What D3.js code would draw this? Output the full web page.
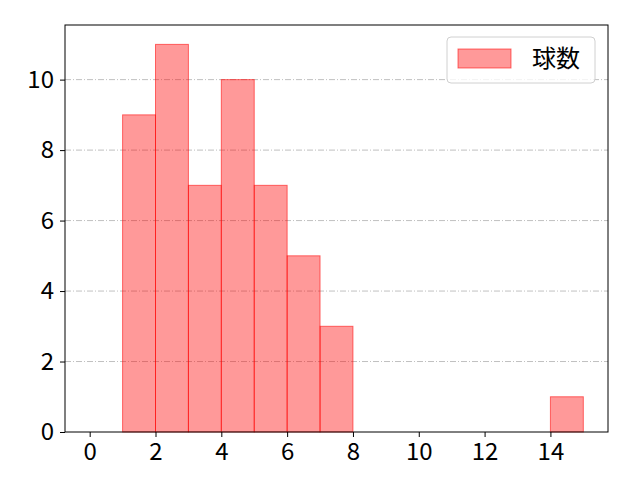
<!DOCTYPE html>
<html>
<head>
<meta charset="utf-8">
<script src="https://cdn.jsdelivr.net/npm/d3@7"></script>
<style>
  body { margin: 0; background: #fff; }
  text { font-family: "Noto Sans CJK JP", "DejaVu Sans", sans-serif; }
</style>
</head>
<body>
<div id="container"></div>
<script>
// histogram bins and counts
const binStarts = [0, 1, 2, 3, 4, 5, 6, 7, 8, 9, 10, 11, 12, 13, 14];
const counts = [0, 9, 11, 7, 10, 7, 5, 3, 0, 0, 0, 0, 0, 0, 1];
const xTicks = [0, 2, 4, 6, 8, 10, 12, 14];
const yTicks = [0, 2, 4, 6, 8, 10];
const seriesName = '球数';

// chart size
const w = 640;
const h = 480;
const margin = { top: 25, right: 32, bottom: 48, left: 65 };

const xScale = d3.scaleLinear()
    .domain([-0.75, 15.75])
    .range([margin.left, w - margin.right]);

const yScale = d3.scaleLinear()
    .domain([0, 11.55])
    .range([h - margin.bottom, margin.top]);

const svg = d3.select('#container')
    .append('svg')
    .attr('width', w)
    .attr('height', h);

// grid lines
svg.append('g')
    .selectAll('line')
    .data(yTicks.filter(d => d > 0))
    .join('line')
    .attr('x1', margin.left)
    .attr('x2', w - margin.right)
    .attr('y1', d => yScale(d))
    .attr('y2', d => yScale(d))
    .attr('stroke', '#b0b0b0')
    .attr('stroke-width', 0.8)
    .attr('stroke-dasharray', '6,2,1,2');

// bars
svg.append('g')
    .selectAll('rect')
    .data(binStarts.map((b, i) => [b, counts[i]]).filter(d => d[1] > 0))
    .join('rect')
    .attr('x', d => xScale(d[0]))
    .attr('y', d => yScale(d[1]))
    .attr('width', d => xScale(d[0] + 1) - xScale(d[0]))
    .attr('height', d => yScale(0) - yScale(d[1]))
    .attr('fill', 'rgba(255,0,0,0.4)')
    .attr('stroke', 'rgba(255,0,0,0.55)')
    .attr('stroke-width', 1);

// axes
const xAxis = d3.axisBottom(xScale).tickValues(xTicks).tickSize(5).tickPadding(6);
const yAxis = d3.axisLeft(yScale).tickValues(yTicks).tickSize(5).tickPadding(6);

svg.append('g')
    .attr('transform', `translate(0, ${h - margin.bottom})`)
    .call(xAxis)
    .call(g => g.select('.domain').remove())
    .call(g => g.selectAll('text').attr('font-size', 24).attr('fill', '#000'));

svg.append('g')
    .attr('transform', `translate(${margin.left}, 0)`)
    .call(yAxis)
    .call(g => g.select('.domain').remove())
    .call(g => g.selectAll('text').attr('font-size', 24).attr('fill', '#000'));

// frame
svg.append('rect')
    .attr('x', margin.left)
    .attr('y', margin.top)
    .attr('width', w - margin.left - margin.right)
    .attr('height', h - margin.top - margin.bottom)
    .attr('fill', 'none')
    .attr('stroke', '#000')
    .attr('stroke-width', 1);

// legend
const legend = svg.append('g').attr('transform', 'translate(447, 37)');
legend.append('rect')
    .attr('width', 148)
    .attr('height', 46)
    .attr('rx', 4)
    .attr('fill', 'rgba(255,255,255,0.8)')
    .attr('stroke', '#d0d0d0');
legend.append('rect')
    .attr('x', 11)
    .attr('y', 12)
    .attr('width', 53)
    .attr('height', 19)
    .attr('fill', 'rgba(255,0,0,0.4)')
    .attr('stroke', 'rgba(255,0,0,0.55)');
legend.append('text')
    .attr('x', 85)
    .attr('y', 30)
    .attr('font-size', 24)
    .attr('fill', '#000')
    .text(seriesName);
</script>
</body>
</html>
